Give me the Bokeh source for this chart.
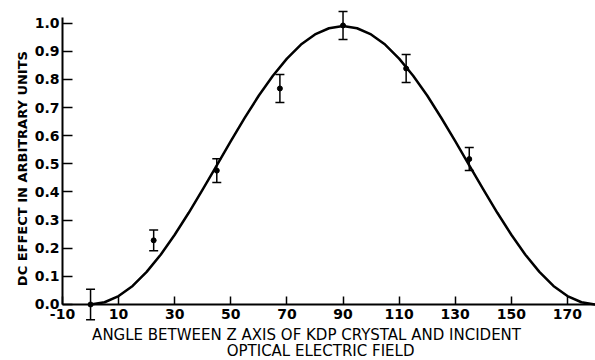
import math
from bokeh.plotting import figure
from bokeh.models import FixedTicker, Range1d, ColumnDataSource, Label
from bokeh.embed import file_html
from bokeh.resources import INLINE

# Measured points
angles = [0, 22.5, 45, 67.5, 90, 112.5, 135]
dc_effect = [0.0, 0.228, 0.476, 0.768, 0.992, 0.839, 0.517]
errors = [0.054, 0.037, 0.042, 0.05, 0.05, 0.05, 0.041]

# Theoretical curve
curve_angles = [0, 5, 10, 15, 20, 25, 30, 35, 40, 45, 50, 55, 60, 65, 70, 75, 80, 85,
                90, 95, 100, 105, 110, 115, 120, 125, 130, 135, 140, 145, 150, 155,
                160, 165, 170, 175, 180]
curve_values = [0.000, 0.008, 0.030, 0.066, 0.116, 0.177, 0.248, 0.326, 0.409, 0.495,
                0.581, 0.664, 0.743, 0.813, 0.874, 0.924, 0.960, 0.982, 0.990, 0.982,
                0.960, 0.924, 0.874, 0.813, 0.743, 0.664, 0.581, 0.495, 0.409, 0.326,
                0.248, 0.177, 0.116, 0.066, 0.030, 0.008, 0.000]

x_ticks = [-10, 10, 30, 50, 70, 90, 110, 130, 150, 170]
x_tick_labels = ["-10", "10", "30", "50", "70", "90", "110", "130", "150", "170"]
y_ticks = [0.0, 0.1, 0.2, 0.3, 0.4, 0.5, 0.6, 0.7, 0.8, 0.9, 1.0]
y_tick_labels = ["0.0", "0.1", "0.2", "0.3", "0.4", "0.5", "0.6", "0.7", "0.8", "0.9", "1.0"]

x_title_1 = "ANGLE BETWEEN Z AXIS OF KDP CRYSTAL AND INCIDENT"
x_title_2 = "OPTICAL ELECTRIC FIELD"
y_title = "DC EFFECT IN ARBITRARY UNITS"

src = ColumnDataSource(dict(
    x=angles, y=dc_effect,
    lo=[v - e for v, e in zip(dc_effect, errors)],
    hi=[v + e for v, e in zip(dc_effect, errors)],
))

p = figure(width=595, height=360, output_backend="svg", toolbar_location=None,
           x_range=Range1d(-32.1, 180), y_range=Range1d(-0.1991, 1.0807))
p.min_border_left = 0
p.min_border_right = 0
p.min_border_top = 0
p.min_border_bottom = 0
p.outline_line_color = None
p.xgrid.visible = False
p.ygrid.visible = False
p.background_fill_color = "white"
p.border_fill_color = "white"

xa = p.xaxis[0]
xa.fixed_location = 0
xa.bounds = (-10, 180)
xa.ticker = FixedTicker(ticks=x_ticks)
xa.major_label_overrides = dict(zip(x_ticks, x_tick_labels))
xa.major_tick_in = 8
xa.major_tick_out = 0
xa.minor_tick_in = 0
xa.minor_tick_out = 0
xa.minor_tick_line_color = None
xa.axis_line_width = 2
xa.major_tick_line_width = 1.5
xa.major_label_standoff = 5
xa.major_label_text_font = "DejaVu Sans"
xa.major_label_text_font_style = "bold"
xa.major_label_text_font_size = "14px"
xa.major_label_text_color = "black"

ya = p.yaxis[0]
ya.fixed_location = -10
ya.bounds = (0, 1.02)
ya.ticker = FixedTicker(ticks=y_ticks)
ya.major_label_overrides = dict(zip(y_ticks, y_tick_labels))
ya.major_tick_in = 10
ya.major_tick_out = 0
ya.minor_tick_in = 0
ya.minor_tick_out = 0
ya.minor_tick_line_color = None
ya.axis_line_width = 2
ya.major_tick_line_width = 1.5
ya.major_label_standoff = 3
ya.major_label_text_font = "DejaVu Sans"
ya.major_label_text_font_style = "bold"
ya.major_label_text_font_size = "14px"
ya.major_label_text_color = "black"

title_style = dict(text_font="DejaVu Sans", text_color="black",
                   text_align="center", text_baseline="middle")
p.add_layout(Label(x=-10, y=0.483, x_offset=-40, text=y_title, angle=math.pi / 2,
                   text_font_style="bold", text_font_size="13px", **title_style))
p.add_layout(Label(x=77, y=0, y_offset=-31, text=x_title_1,
                   text_font_style="normal", text_font_size="15px", **title_style))
p.add_layout(Label(x=82, y=0, y_offset=-47, text=x_title_2,
                   text_font_style="normal", text_font_size="15px", **title_style))

p.line(curve_angles, curve_values, line_color="black", line_width=2.5, line_join="round")
p.segment(x0="x", y0="lo", x1="x", y1="hi", source=src, line_color="black", line_width=1.5)
p.scatter(x="x", y="lo", source=src, marker="dash", size=9, line_color="black", line_width=1.5)
p.scatter(x="x", y="hi", source=src, marker="dash", size=9, line_color="black", line_width=1.5)
p.scatter(x="x", y="y", source=src, marker="circle", size=5, fill_color="black", line_color="black")

open("out.html", "w").write(file_html(p, INLINE))
